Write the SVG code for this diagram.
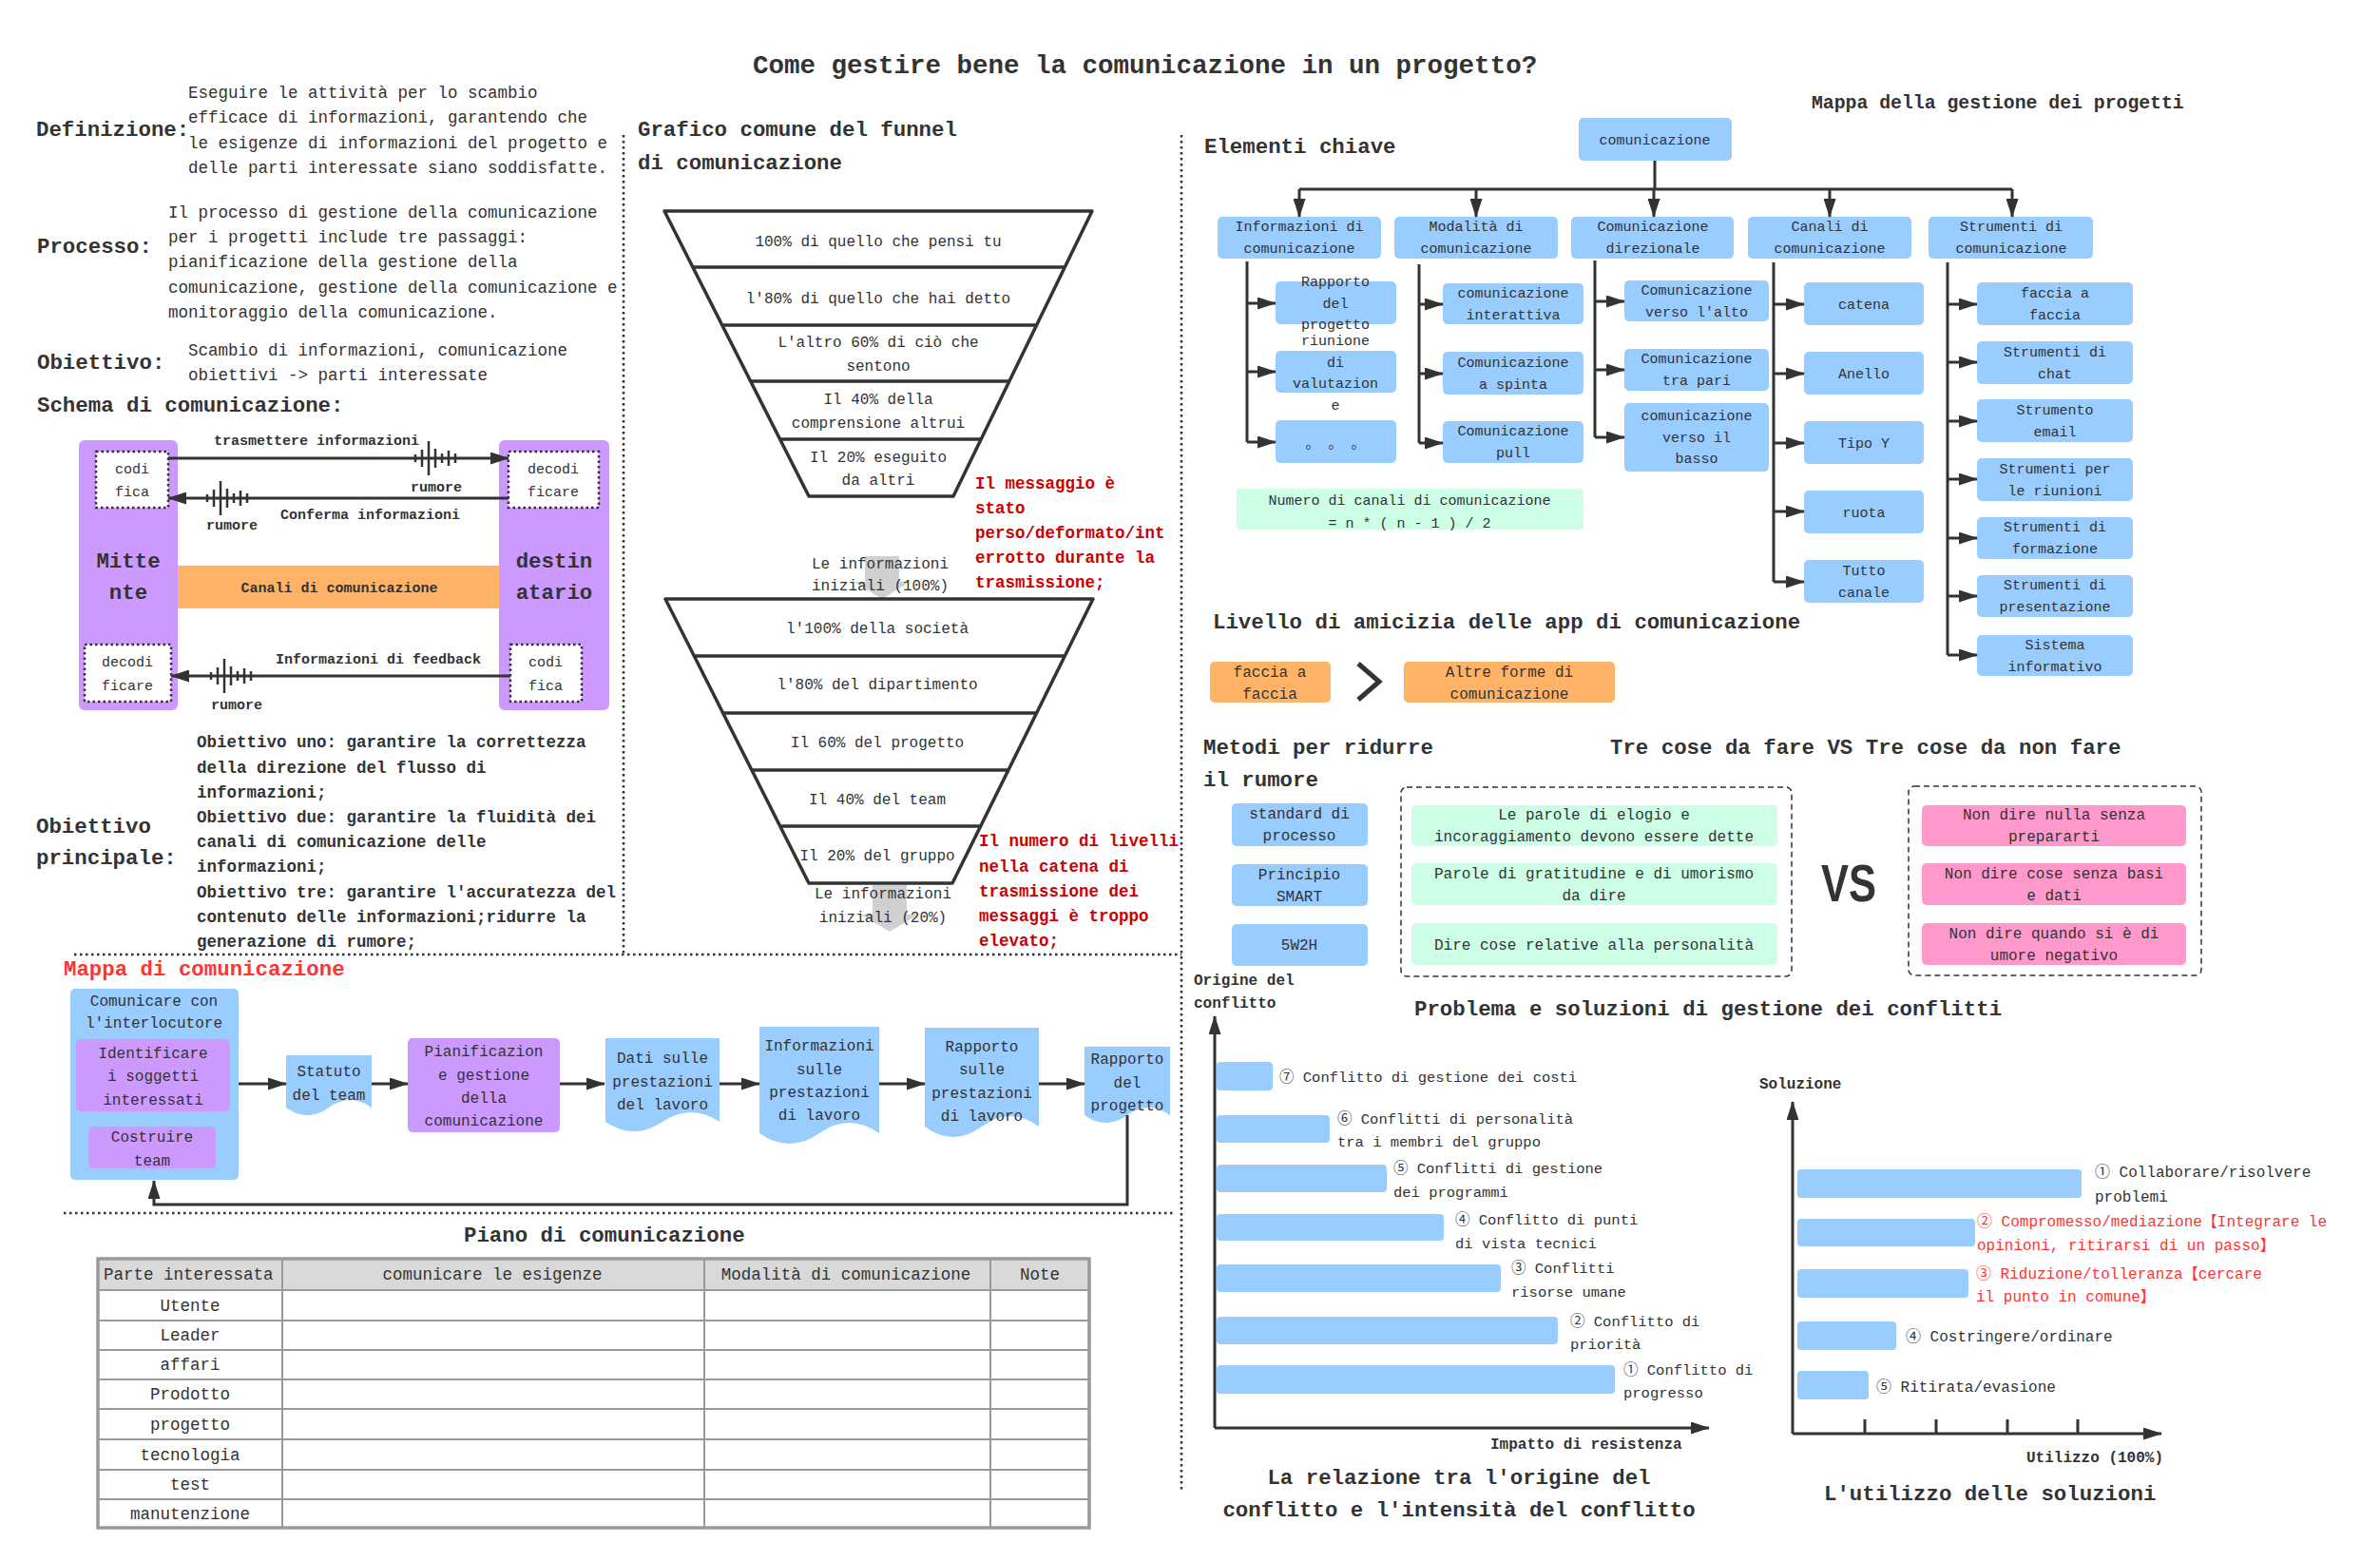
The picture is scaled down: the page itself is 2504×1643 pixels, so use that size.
<svg xmlns="http://www.w3.org/2000/svg" width="2504" height="1643" viewBox="0 0 2504 1643">
<defs>
<style>
text{font-family:"Liberation Mono","DejaVu Sans Mono","Noto Sans CJK SC",monospace;fill:#333}
.b{font-weight:bold}
.c{text-anchor:middle}
.h1{font-size:27.5px}
.h2{font-size:22.4px}
.h3{font-size:19.8px}
.p{font-size:17.5px}
.n{font-size:16px}
.m{font-size:15.5px}
.s{font-size:15px}
.red{fill:#cc0000}
.red2{fill:#ff3333}
.blue{fill:#99ccff}
.pur{fill:#cc99ff}
.org{fill:#ffb366}
.grn{fill:#ccffe6}
.pnk{fill:#ff99cc}
.dot{fill:none;stroke:#333;stroke-width:2.5;stroke-dasharray:2.5 3.5}
.dotbox{fill:#fff;stroke:#333;stroke-width:2.5;stroke-dasharray:2.5 3}
.dash{fill:none;stroke:#333;stroke-width:1.5;stroke-dasharray:6 4}
.ln{fill:none;stroke:#333;stroke-width:3}
.arr{fill:none;stroke:#333;stroke-width:3;marker-end:url(#ah)}
.fun{fill:#fff;stroke:#333;stroke-width:3.5;stroke-linejoin:round}
.row{stroke:#333;stroke-width:3.5}
.ga{fill:#d0d0d0}
.tb{fill:none;stroke:#999;stroke-width:2}
</style>
<marker id="ah" viewBox="0 0 20 13" refX="19" refY="6.5" markerWidth="20" markerHeight="13" markerUnits="userSpaceOnUse" orient="auto"><path d="M0,0 L20,6.5 L0,13 z" fill="#333"/></marker>
<g id="noise" stroke="#333" stroke-width="2.5"><path d="M-22,-4V4 M-15,-9V9 M-8,-18V18 M-1,-10V10 M6,-5V5 M13,-8V8 M20,-5V5"/></g>
</defs>
<rect width="2504" height="1643" fill="#fff"/>

<g id="title"><text x="792" y="77" class="b h1">Come gestire bene la comunicazione in un progetto?</text></g>

<g id="separators">
<path class="dot" d="M656,142V1003"/>
<path class="dot" d="M1243,142V1570"/>
<path class="dot" d="M78,1004H1243"/>
<path class="dot" d="M67,1276H1234"/>
</g>

<g id="definizione">
<text x="38" y="143" class="b h2">Definizione:</text>
<text class="p"><tspan x="198" y="103">Eseguire le attività per lo scambio</tspan><tspan x="198" y="129">efficace di informazioni, garantendo che</tspan><tspan x="198" y="156">le esigenze di informazioni del progetto e</tspan><tspan x="198" y="182">delle parti interessate siano soddisfatte.</tspan></text>
</g>
<g id="processo">
<text x="39" y="266" class="b h2">Processo:</text>
<text class="p"><tspan x="177" y="229">Il processo di gestione della comunicazione</tspan><tspan x="177" y="255">per i progetti include tre passaggi:</tspan><tspan x="177" y="281">pianificazione della gestione della</tspan><tspan x="177" y="308">comunicazione, gestione della comunicazione e</tspan><tspan x="177" y="334">monitoraggio della comunicazione.</tspan></text>
</g>
<g id="obiettivo">
<text x="39" y="388" class="b h2">Obiettivo:</text>
<text class="p"><tspan x="198" y="374">Scambio di informazioni, comunicazione</tspan><tspan x="198" y="400">obiettivi -&gt; parti interessate</tspan></text>
</g>
<g id="schema">
<text x="39" y="433" class="b h2">Schema di comunicazione:</text>
<g id="mittente"><rect x="83" y="463" width="104" height="284" rx="6" class="pur"/>
<text class="b h2 c"><tspan x="135" y="597">Mitte</tspan><tspan x="135" y="630">nte</tspan></text></g>
<g id="destinatario"><rect x="525" y="463" width="116" height="284" rx="6" class="pur"/>
<text class="b h2 c"><tspan x="583" y="597">destin</tspan><tspan x="583" y="630">atario</tspan></text></g>
<g id="canali"><rect x="187" y="595" width="338" height="45" class="org"/>
<text x="357" y="623" class="b s c">Canali di comunicazione</text></g>
<g id="codifica1"><rect x="101" y="475" width="76" height="59" class="dotbox"/><text class="s c"><tspan x="139" y="498">codi</tspan><tspan x="139" y="522">fica</tspan></text></g>
<g id="decodifica1"><rect x="535" y="475" width="95" height="59" class="dotbox"/><text class="s c"><tspan x="582" y="498">decodi</tspan><tspan x="582" y="522">ficare</tspan></text></g>
<g id="decodifica2"><rect x="89" y="678" width="91" height="60" class="dotbox"/><text class="s c"><tspan x="134" y="701">decodi</tspan><tspan x="134" y="726">ficare</tspan></text></g>
<g id="codifica2"><rect x="537" y="678" width="75" height="60" class="dotbox"/><text class="s c"><tspan x="574" y="701">codi</tspan><tspan x="574" y="726">fica</tspan></text></g>
<g id="schema-links">
<path class="arr" d="M177,482H535"/>
<path class="arr" d="M535,524H177"/>
<path class="arr" d="M537,711H180"/>
<use href="#noise" x="459" y="482"/>
<use href="#noise" x="240" y="524"/>
<use href="#noise" x="244" y="711"/>
<text x="225" y="468" class="b s">trasmettere informazioni</text>
<text x="459" y="517" class="b s c">rumore</text>
<text x="244" y="557" class="b s c">rumore</text>
<text x="295" y="546" class="b s">Conferma informazioni</text>
<text x="290" y="698" class="b s">Informazioni di feedback</text>
<text x="249" y="746" class="b s c">rumore</text>
</g>
</g>

<g id="obiettivo-principale">
<text class="b h2"><tspan x="38" y="876">Obiettivo</tspan><tspan x="38" y="909">principale:</tspan></text>
<text class="b p"><tspan x="207" y="786">Obiettivo uno: garantire la correttezza</tspan><tspan x="207" y="813">della direzione del flusso di</tspan><tspan x="207" y="839">informazioni;</tspan><tspan x="207" y="865">Obiettivo due: garantire la fluidità dei</tspan><tspan x="207" y="891">canali di comunicazione delle</tspan><tspan x="207" y="917">informazioni;</tspan><tspan x="207" y="944">Obiettivo tre: garantire l'accuratezza del</tspan><tspan x="207" y="970">contenuto delle informazioni;ridurre la</tspan><tspan x="207" y="996">generazione di rumore;</tspan></text>
</g>

<g id="funnel1">
<text class="b h2"><tspan x="671" y="143">Grafico comune del funnel</tspan><tspan x="671" y="178">di comunicazione</tspan></text>
<polygon class="fun" points="699,222 1149,222 1003,522 851,522"/>
<path class="row" d="M729,281H1120 M760,342H1091 M790,401H1062 M821,462H1032"/>
<text class="n c"><tspan x="924" y="259">100% di quello che pensi tu</tspan><tspan x="924" y="319">l'80% di quello che hai detto</tspan><tspan x="924" y="365">L'altro 60% di ciò che</tspan><tspan x="924" y="390">sentono</tspan><tspan x="924" y="425">Il 40% della</tspan><tspan x="924" y="450">comprensione altrui</tspan><tspan x="924" y="486">Il 20% eseguito</tspan><tspan x="924" y="510">da altri</tspan></text>
<text class="b p red"><tspan x="1026" y="514">Il messaggio è</tspan><tspan x="1026" y="540">stato</tspan><tspan x="1026" y="566">perso/deformato/int</tspan><tspan x="1026" y="592">errotto durante la</tspan><tspan x="1026" y="618">trasmissione;</tspan></text>
</g>

<g id="funnel2">
<polygon class="ga" points="910,585 946,585 946,612 957,612 928,630 899,612 910,612"/>
<text class="n c"><tspan x="926" y="598">Le informazioni</tspan><tspan x="926" y="621">iniziali (100%)</tspan></text>
<polygon class="fun" points="700,630 1150,630 1002,929 851,929"/>
<path class="row" d="M730,690H1120 M761,750H1091 M791,810H1061 M821,869H1032"/>
<text class="n c"><tspan x="923" y="666">l'100% della società</tspan><tspan x="923" y="725">l'80% del dipartimento</tspan><tspan x="923" y="786">Il 60% del progetto</tspan><tspan x="923" y="846">Il 40% del team</tspan><tspan x="923" y="905">Il 20% del gruppo</tspan></text>
<polygon class="ga" points="918,931 954,931 954,962 966,962 936,980 906,962 918,962"/>
<text class="n c"><tspan x="929" y="945">Le informazioni</tspan><tspan x="929" y="970">iniziali (20%)</tspan></text>
<text class="b p red"><tspan x="1030" y="890">Il numero di livelli</tspan><tspan x="1030" y="917">nella catena di</tspan><tspan x="1030" y="943">trasmissione dei</tspan><tspan x="1030" y="969">messaggi è troppo</tspan><tspan x="1030" y="995">elevato;</tspan></text>
</g>

<g id="elementi-chiave">
<text x="1267" y="161" class="b h2">Elementi chiave</text>
<text x="1906" y="114" class="b h3">Mappa della gestione dei progetti</text>
<g id="n-root"><rect x="1661" y="124" width="161" height="45" rx="5" class="blue"/><text x="1741" y="152" class="s c">comunicazione</text></g>
<g id="n-info"><rect x="1281" y="228" width="172" height="44" rx="5" class="blue"/><text class="s c"><tspan x="1367" y="243">Informazioni di</tspan><tspan x="1367" y="266">comunicazione</tspan></text></g>
<g id="n-mod"><rect x="1467" y="228" width="172" height="44" rx="5" class="blue"/><text class="s c"><tspan x="1553" y="243">Modalità di</tspan><tspan x="1553" y="266">comunicazione</tspan></text></g>
<g id="n-dir"><rect x="1653" y="228" width="171" height="44" rx="5" class="blue"/><text class="s c"><tspan x="1739" y="243">Comunicazione</tspan><tspan x="1739" y="266">direzionale</tspan></text></g>
<g id="n-can"><rect x="1839" y="228" width="172" height="44" rx="5" class="blue"/><text class="s c"><tspan x="1925" y="243">Canali di</tspan><tspan x="1925" y="266">comunicazione</tspan></text></g>
<g id="n-str"><rect x="2029" y="228" width="173" height="44" rx="5" class="blue"/><text class="s c"><tspan x="2116" y="243">Strumenti di</tspan><tspan x="2116" y="266">comunicazione</tspan></text></g>

<g id="n-rapporto"><rect x="1342" y="296" width="127" height="45" rx="5" class="blue"/><text class="s c"><tspan x="1405" y="301">Rapporto</tspan><tspan x="1405" y="324">del</tspan><tspan x="1405" y="346">progetto</tspan></text></g>
<g id="n-riunione"><rect x="1342" y="369" width="127" height="44" rx="5" class="blue"/><text class="s c"><tspan x="1405" y="363">riunione</tspan><tspan x="1405" y="386">di</tspan><tspan x="1405" y="408">valutazion</tspan><tspan x="1405" y="431">e</tspan></text></g>
<g id="n-dots"><rect x="1342" y="442" width="127" height="45" rx="5" class="blue"/><text x="1405" y="471" class="s c">。 。 。</text></g>

<g id="n-inter"><rect x="1518" y="298" width="148" height="43" rx="5" class="blue"/><text class="s c"><tspan x="1592" y="313">comunicazione</tspan><tspan x="1592" y="336">interattiva</tspan></text></g>
<g id="n-spinta"><rect x="1518" y="370" width="148" height="45" rx="5" class="blue"/><text class="s c"><tspan x="1592" y="386">Comunicazione</tspan><tspan x="1592" y="409">a spinta</tspan></text></g>
<g id="n-pull"><rect x="1518" y="443" width="148" height="44" rx="5" class="blue"/><text class="s c"><tspan x="1592" y="458">Comunicazione</tspan><tspan x="1592" y="481">pull</tspan></text></g>

<g id="n-alto"><rect x="1709" y="295" width="152" height="43" rx="5" class="blue"/><text class="s c"><tspan x="1785" y="310">Comunicazione</tspan><tspan x="1785" y="333">verso l'alto</tspan></text></g>
<g id="n-pari"><rect x="1709" y="367" width="152" height="44" rx="5" class="blue"/><text class="s c"><tspan x="1785" y="382">Comunicazione</tspan><tspan x="1785" y="405">tra pari</tspan></text></g>
<g id="n-basso"><rect x="1709" y="424" width="152" height="72" rx="5" class="blue"/><text class="s c"><tspan x="1785" y="442">comunicazione</tspan><tspan x="1785" y="465">verso il</tspan><tspan x="1785" y="487">basso</tspan></text></g>

<g id="n-catena"><rect x="1898" y="297" width="126" height="45" rx="5" class="blue"/><text x="1961" y="325" class="s c">catena</text></g>
<g id="n-anello"><rect x="1898" y="370" width="126" height="45" rx="5" class="blue"/><text x="1961" y="398" class="s c">Anello</text></g>
<g id="n-tipoy"><rect x="1898" y="443" width="126" height="45" rx="5" class="blue"/><text x="1961" y="471" class="s c">Tipo Y</text></g>
<g id="n-ruota"><rect x="1898" y="516" width="126" height="45" rx="5" class="blue"/><text x="1961" y="544" class="s c">ruota</text></g>
<g id="n-tutto"><rect x="1898" y="589" width="126" height="45" rx="5" class="blue"/><text class="s c"><tspan x="1961" y="605">Tutto</tspan><tspan x="1961" y="628">canale</tspan></text></g>

<g id="n-faccia"><rect x="2080" y="297" width="164" height="45" rx="5" class="blue"/><text class="s c"><tspan x="2162" y="313">faccia a</tspan><tspan x="2162" y="336">faccia</tspan></text></g>
<g id="n-chat"><rect x="2080" y="359" width="164" height="45" rx="5" class="blue"/><text class="s c"><tspan x="2162" y="375">Strumenti di</tspan><tspan x="2162" y="398">chat</tspan></text></g>
<g id="n-email"><rect x="2080" y="420" width="164" height="45" rx="5" class="blue"/><text class="s c"><tspan x="2162" y="436">Strumento</tspan><tspan x="2162" y="459">email</tspan></text></g>
<g id="n-riunioni"><rect x="2080" y="482" width="164" height="45" rx="5" class="blue"/><text class="s c"><tspan x="2162" y="498">Strumenti per</tspan><tspan x="2162" y="521">le riunioni</tspan></text></g>
<g id="n-formazione"><rect x="2080" y="544" width="164" height="44" rx="5" class="blue"/><text class="s c"><tspan x="2162" y="559">Strumenti di</tspan><tspan x="2162" y="582">formazione</tspan></text></g>
<g id="n-present"><rect x="2080" y="605" width="164" height="44" rx="5" class="blue"/><text class="s c"><tspan x="2162" y="620">Strumenti di</tspan><tspan x="2162" y="643">presentazione</tspan></text></g>
<g id="n-sistema"><rect x="2080" y="668" width="164" height="43" rx="5" class="blue"/><text class="s c"><tspan x="2162" y="683">Sistema</tspan><tspan x="2162" y="706">informativo</tspan></text></g>

<g id="n-formula"><rect x="1301" y="514" width="365" height="43" rx="4" class="grn"/><text class="s c"><tspan x="1483" y="531">Numero di canali di comunicazione</tspan><tspan x="1483" y="555">= n * ( n - 1 ) / 2</tspan></text></g>
</g>

<g id="tree-links">
<path class="ln" d="M1741,169V199 M1367,199H2117"/>
<path class="arr" d="M1367,199V228"/>
<path class="arr" d="M1553,199V228"/>
<path class="arr" d="M1740,199V228"/>
<path class="arr" d="M1925,199V228"/>
<path class="arr" d="M2117,199V228"/>
<path class="ln" d="M1312,275V465"/>
<path class="arr" d="M1312,319H1342"/>
<path class="arr" d="M1312,391H1342"/>
<path class="arr" d="M1312,465H1342"/>
<path class="ln" d="M1493,278V466"/>
<path class="arr" d="M1493,320H1518"/>
<path class="arr" d="M1493,393H1518"/>
<path class="arr" d="M1493,466H1518"/>
<path class="ln" d="M1678,274V460"/>
<path class="arr" d="M1678,317H1709"/>
<path class="arr" d="M1678,389H1709"/>
<path class="arr" d="M1678,460H1709"/>
<path class="ln" d="M1866,276V612"/>
<path class="arr" d="M1866,320H1898"/>
<path class="arr" d="M1866,393H1898"/>
<path class="arr" d="M1866,466H1898"/>
<path class="arr" d="M1866,538H1898"/>
<path class="arr" d="M1866,612H1898"/>
<path class="ln" d="M2049,276V689"/>
<path class="arr" d="M2049,320H2080"/>
<path class="arr" d="M2049,381H2080"/>
<path class="arr" d="M2049,443H2080"/>
<path class="arr" d="M2049,504H2080"/>
<path class="arr" d="M2049,566H2080"/>
<path class="arr" d="M2049,627H2080"/>
<path class="arr" d="M2049,689H2080"/>
</g>

<g id="amicizia">
<text x="1276" y="661" class="b h2">Livello di amicizia delle app di comunicazione</text>
<g id="n-faccia2"><rect x="1273" y="696" width="127" height="43" rx="5" class="org"/><text class="n c"><tspan x="1336" y="712">faccia a</tspan><tspan x="1336" y="735">faccia</tspan></text></g>
<polyline points="1429,698 1451,717 1429,736" fill="none" stroke="#333" stroke-width="5"/>
<g id="n-altre"><rect x="1477" y="696" width="222" height="43" rx="5" class="org"/><text class="n c"><tspan x="1588" y="712">Altre forme di</tspan><tspan x="1588" y="735">comunicazione</tspan></text></g>
</g>

<g id="metodi">
<text class="b h2"><tspan x="1266" y="793">Metodi per ridurre</tspan><tspan x="1266" y="827">il rumore</tspan></text>
<g id="n-standard"><rect x="1296" y="845" width="143" height="45" rx="5" class="blue"/><text class="n c"><tspan x="1367" y="861">standard di</tspan><tspan x="1367" y="884">processo</tspan></text></g>
<g id="n-smart"><rect x="1296" y="909" width="143" height="44" rx="5" class="blue"/><text class="n c"><tspan x="1367" y="925">Principio</tspan><tspan x="1367" y="948">SMART</tspan></text></g>
<g id="n-5w2h"><rect x="1296" y="972" width="143" height="44" rx="5" class="blue"/><text x="1367" y="999" class="n c">5W2H</text></g>
</g>

<g id="tre-cose">
<text x="1694" y="793" class="b h2">Tre cose da fare VS Tre cose da non fare</text>
<rect x="1474" y="828" width="411" height="199" rx="6" class="dash"/>
<g id="n-elogio"><rect x="1485" y="847" width="385" height="43" rx="5" class="grn"/><text class="n c"><tspan x="1677" y="862">Le parole di elogio e</tspan><tspan x="1677" y="885">incoraggiamento devono essere dette</tspan></text></g>
<g id="n-gratitudine"><rect x="1485" y="908" width="385" height="44" rx="5" class="grn"/><text class="n c"><tspan x="1677" y="924">Parole di gratitudine e di umorismo</tspan><tspan x="1677" y="947">da dire</tspan></text></g>
<g id="n-personalita"><rect x="1485" y="971" width="385" height="44" rx="5" class="grn"/><text x="1677" y="999" class="n c">Dire cose relative alla personalità</text></g>
<text x="1916" y="948" font-family="Liberation Sans, Arial, sans-serif" font-size="56" font-weight="bold" textLength="58" lengthAdjust="spacingAndGlyphs" style="font-family:'Liberation Sans',sans-serif">VS</text>
<rect x="2008" y="827" width="308" height="199" rx="6" class="dash"/>
<g id="n-nulla"><rect x="2022" y="847" width="278" height="43" rx="5" class="pnk"/><text class="n c"><tspan x="2161" y="862">Non dire nulla senza</tspan><tspan x="2161" y="885">prepararti</tspan></text></g>
<g id="n-basi"><rect x="2022" y="908" width="278" height="44" rx="5" class="pnk"/><text class="n c"><tspan x="2161" y="924">Non dire cose senza basi</tspan><tspan x="2161" y="947">e dati</tspan></text></g>
<g id="n-umore"><rect x="2022" y="971" width="278" height="44" rx="5" class="pnk"/><text class="n c"><tspan x="2161" y="987">Non dire quando si è di</tspan><tspan x="2161" y="1010">umore negativo</tspan></text></g>
</g>

<g id="conflitti">
<text x="1488" y="1068" class="b h2">Problema e soluzioni di gestione dei conflitti</text>
<text class="b n"><tspan x="1256" y="1036">Origine del</tspan><tspan x="1256" y="1060">conflitto</tspan></text>
<path class="arr" d="M1278,1502V1069"/>
<path class="arr" d="M1278,1502H1798"/>
<g class="blue">
<rect x="1280" y="1117" width="59" height="30" rx="4"/>
<rect x="1280" y="1173" width="119" height="29" rx="4"/>
<rect x="1280" y="1225" width="179" height="29" rx="4"/>
<rect x="1280" y="1277" width="239" height="28" rx="4"/>
<rect x="1280" y="1330" width="299" height="29" rx="4"/>
<rect x="1280" y="1385" width="359" height="29" rx="4"/>
<rect x="1280" y="1436" width="419" height="30" rx="4"/>
</g>
<text class="m">
<tspan x="1346" y="1138">⑦ Conflitto di gestione dei costi</tspan>
<tspan x="1407" y="1182">⑥ Conflitti di personalità</tspan><tspan x="1407" y="1206">tra i membri del gruppo</tspan>
<tspan x="1466" y="1234">⑤ Conflitti di gestione</tspan><tspan x="1466" y="1259">dei programmi</tspan>
<tspan x="1531" y="1288">④ Conflitto di punti</tspan><tspan x="1531" y="1313">di vista tecnici</tspan>
<tspan x="1590" y="1339">③ Conflitti</tspan><tspan x="1590" y="1364">risorse umane</tspan>
<tspan x="1652" y="1395">② Conflitto di</tspan><tspan x="1652" y="1419">priorità</tspan>
<tspan x="1708" y="1446">① Conflitto di</tspan><tspan x="1708" y="1470">progresso</tspan>
</text>
<text x="1568" y="1524" class="b n">Impatto di resistenza</text>
<text class="b h2 c"><tspan x="1535" y="1561">La relazione tra l'origine del</tspan><tspan x="1535" y="1595">conflitto e l'intensità del conflitto</tspan></text>

<text x="1851" y="1145" class="b n">Soluzione</text>
<path class="arr" d="M1886,1508V1159"/>
<path class="arr" d="M1886,1508H2274"/>
<path class="ln" d="M1962,1493V1508 M2037,1493V1508 M2112,1493V1508 M2186,1493V1508"/>
<g class="blue">
<rect x="1891" y="1230" width="299" height="30" rx="4"/>
<rect x="1891" y="1282" width="187" height="29" rx="4"/>
<rect x="1891" y="1335" width="180" height="30" rx="4"/>
<rect x="1891" y="1390" width="104" height="30" rx="4"/>
<rect x="1891" y="1442" width="75" height="30" rx="4"/>
</g>
<text class="n"><tspan x="2204" y="1238">① Collaborare/risolvere</tspan><tspan x="2204" y="1264">problemi</tspan></text>
<text class="n red2"><tspan x="2080" y="1290">② Compromesso/mediazione【Integrare le</tspan><tspan x="2080" y="1315">opinioni, ritirarsi di un passo】</tspan></text>
<text class="n red2"><tspan x="2079" y="1345">③ Riduzione/tolleranza【cercare</tspan><tspan x="2079" y="1369">il punto in comune】</tspan></text>
<text x="2005" y="1411" class="n">④ Costringere/ordinare</text>
<text x="1974" y="1464" class="n">⑤ Ritirata/evasione</text>
<text x="2132" y="1538" class="b n">Utilizzo (100%)</text>
<text x="1919" y="1578" class="b h2">L'utilizzo delle soluzioni</text>
</g>

<g id="mappa-comunicazione">
<text x="67" y="1026" class="b h2 red2">Mappa di comunicazione</text>
<g id="m-interlocutore"><rect x="74" y="1040" width="177" height="201" rx="5" class="blue"/><text class="n c"><tspan x="162" y="1058">Comunicare con</tspan><tspan x="162" y="1081">l'interlocutore</tspan></text></g>
<g id="m-identificare"><rect x="80" y="1093" width="162" height="76" rx="5" class="pur"/><text class="n c"><tspan x="161" y="1113">Identificare</tspan><tspan x="161" y="1137">i soggetti</tspan><tspan x="161" y="1162">interessati</tspan></text></g>
<g id="m-costruire"><rect x="93" y="1185" width="134" height="44" rx="5" class="pur"/><text class="n c"><tspan x="160" y="1201">Costruire</tspan><tspan x="160" y="1226">team</tspan></text></g>
<g id="m-statuto"><path class="blue" d="M301,1110H391V1165Q368.5,1149 346,1165T301,1165Z"/><text class="n c"><tspan x="346" y="1132">Statuto</tspan><tspan x="346" y="1157">del team</tspan></text></g>
<g id="m-pianificazione"><rect x="429" y="1092" width="160" height="99" rx="5" class="pur"/><text class="n c"><tspan x="509" y="1111">Pianificazion</tspan><tspan x="509" y="1136">e gestione</tspan><tspan x="509" y="1160">della</tspan><tspan x="509" y="1184">comunicazione</tspan></text></g>
<g id="m-dati"><path class="blue" d="M637,1092H757V1180Q727,1160 697,1180T637,1180Z"/><text class="n c"><tspan x="697" y="1118">Dati sulle</tspan><tspan x="697" y="1143">prestazioni</tspan><tspan x="697" y="1167">del lavoro</tspan></text></g>
<g id="m-informazioni"><path class="blue" d="M799,1080H925V1192Q893.5,1170 862,1192T799,1192Z"/><text class="n c"><tspan x="862" y="1105">Informazioni</tspan><tspan x="862" y="1130">sulle</tspan><tspan x="862" y="1154">prestazioni</tspan><tspan x="862" y="1178">di lavoro</tspan></text></g>
<g id="m-rapporto"><path class="blue" d="M973,1081H1093V1185Q1063,1163 1033,1185T973,1185Z"/><text class="n c"><tspan x="1033" y="1106">Rapporto</tspan><tspan x="1033" y="1130">sulle</tspan><tspan x="1033" y="1155">prestazioni</tspan><tspan x="1033" y="1179">di lavoro</tspan></text></g>
<g id="m-progetto"><path class="blue" d="M1141,1101H1231V1173Q1208.5,1157 1186,1173T1141,1173Z"/><text class="n c"><tspan x="1186" y="1119">Rapporto</tspan><tspan x="1186" y="1144">del</tspan><tspan x="1186" y="1168">progetto</tspan></text></g>
<g id="map-links">
<path class="arr" d="M251,1140H301"/>
<path class="arr" d="M391,1140H429"/>
<path class="arr" d="M589,1140H636"/>
<path class="arr" d="M757,1140H799"/>
<path class="arr" d="M925,1140H973"/>
<path class="arr" d="M1093,1140H1141"/>
<path class="arr" d="M1186,1173V1267H162V1242"/>
</g>
</g>

<g id="piano">
<text x="488" y="1306" class="b h2">Piano di comunicazione</text>
<rect x="103" y="1324" width="1043" height="33" fill="#d9d9d9"/>
<path class="tb" d="M103,1357H1146 M103,1389H1146 M103,1420H1146 M103,1451H1146 M103,1482H1146 M103,1514H1146 M103,1546H1146 M103,1577H1146 M297,1324V1607 M741,1324V1607 M1042,1324V1607"/>
<rect x="103" y="1324" width="1043" height="283" fill="none" stroke="#999" stroke-width="3.5"/>
<text x="109" y="1346" class="p">Parte interessata</text>
<text class="p c"><tspan x="518" y="1346">comunicare le esigenze</tspan><tspan x="890" y="1346">Modalità di comunicazione</tspan><tspan x="1094" y="1346">Note</tspan></text>
<text class="p c"><tspan x="200" y="1379">Utente</tspan><tspan x="200" y="1410">Leader</tspan><tspan x="200" y="1441">affari</tspan><tspan x="200" y="1472">Prodotto</tspan><tspan x="200" y="1504">progetto</tspan><tspan x="200" y="1536">tecnologia</tspan><tspan x="200" y="1567">test</tspan><tspan x="200" y="1598">manutenzione</tspan></text>
</g>
</svg>
